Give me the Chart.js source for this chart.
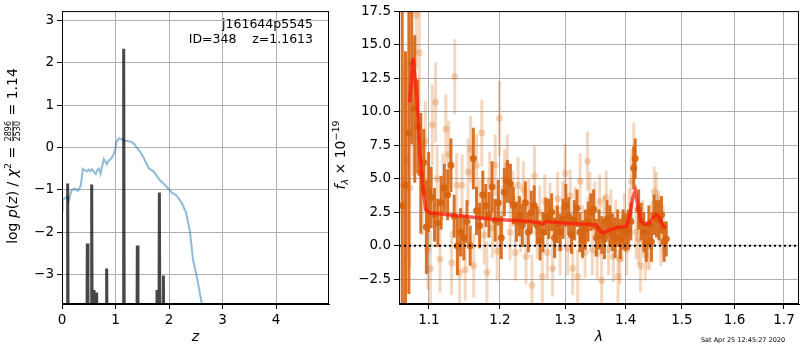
<!DOCTYPE html>
<html>
<head>
<meta charset="utf-8">
<script src="https://cdn.jsdelivr.net/npm/chart.js@4"></script>
<style>
  html, body { margin:0; padding:0; background:#fff; }
  #wrap { position:relative; width:800px; height:350px; overflow:hidden; }
  #pz-box { position:absolute; left:0; top:0; width:335px; height:350px; }
  #sp-box { position:absolute; left:330px; top:0; width:470px; height:350px; }
</style>
</head>
<body>
<div id="wrap">
  <div id="pz-box"><canvas id="chart-pz"></canvas></div>
  <div id="sp-box"><canvas id="chart-spec"></canvas></div>
</div>
<script>
// --- left panel: log p(z) ---
const pzZ   = [0, 0.01, 0.05, 0.09, 0.12, 0.18, 0.24, 0.30, 0.35, 0.39, 0.43, 0.46, 0.50, 0.53, 0.56, 0.60, 0.63, 0.66, 0.69, 0.72, 0.75, 0.78, 0.81, 0.84, 0.87, 0.90, 0.94, 0.97, 1.00, 1.02, 1.07, 1.11, 1.15, 1.20, 1.24, 1.30, 1.35, 1.40, 1.46, 1.52, 1.58, 1.63, 1.71, 1.77, 1.83, 1.90, 1.96, 2.05, 2.14, 2.24, 2.32, 2.39, 2.45, 2.52, 2.61, 2.70];
const pzLog = [-1.5, -1.23, -1.2, -1.16, -1.27, -1.0, -0.97, -1.02, -0.9, -0.5, -0.54, -0.56, -0.52, -0.56, -0.51, -0.58, -0.62, -0.53, -0.5, -0.62, -0.45, -0.27, -0.33, -0.39, -0.3, -0.29, -0.22, -0.15, -0.02, 0.15, 0.22, 0.2, 0.17, 0.16, 0.15, 0.14, 0.08, 0.0, -0.1, -0.23, -0.38, -0.5, -0.56, -0.66, -0.77, -0.85, -0.93, -1.06, -1.13, -1.31, -1.54, -1.97, -2.66, -3.05, -3.66, -4.5];
const spikeZ    = [0.106, 0.473, 0.555, 0.598, 0.648, 0.835, 1.153, 1.408, 1.776, 1.820, 1.895];
const spikePeak = [-0.85, -2.26, -0.87, -3.36, -3.42, -2.85, 2.33, -2.31, -3.36, -1.06, -3.02];
const pzTicksX = [0, 1, 2, 3, 4];
const pzTicksY = [-3, -2, -1, 0, 1, 2, 3];

// --- right panel: spectrum ---
const darkWave = [1.0645, 1.0688, 1.0732, 1.0770, 1.0810, 1.0850, 1.0890, 1.0930, 1.0965, 1.0995, 1.1030, 1.1075, 1.1120, 1.1165, 1.1210, 1.1255, 1.1300, 1.1345, 1.1390, 1.1435, 1.1480, 1.1525, 1.1570, 1.1615, 1.1660, 1.1705, 1.1750, 1.1795, 1.1840, 1.1885, 1.1930, 1.1975, 1.2020, 1.2065, 1.2110, 1.2155, 1.2200, 1.2245, 1.2290, 1.2335, 1.2380, 1.2425, 1.2470, 1.2515, 1.2560, 1.2605, 1.2650, 1.2695, 1.2740, 1.2785, 1.2830, 1.2875, 1.2920, 1.2965, 1.3010, 1.3055, 1.3100, 1.3145, 1.3190, 1.3235, 1.3280, 1.3325, 1.3370, 1.3415, 1.3460, 1.3505, 1.3550, 1.3595, 1.3640, 1.3685, 1.3730, 1.3775, 1.3820, 1.3865, 1.3910, 1.3955, 1.4000, 1.4045, 1.4090, 1.4140, 1.4165, 1.4225, 1.4270, 1.4315, 1.4360, 1.4405, 1.4450, 1.4495, 1.4540, 1.4585, 1.4630, 1.4675, 1.4715];
const darkFlux = [3.0, 4.5, 8.4, 13.6, 10.2, 8.9, 5.4, 6.2, 1.4, 4.0, 3.6, 2.3, 1.7, 3.2, 4.3, 3.8, 6.0, 2.2, 0.0, 1.0, 0.6, 1.8, 0.0, 6.5, 2.6, 1.5, 3.8, 3.0, 2.3, 4.4, 1.9, 3.2, 0.6, 4.0, 4.8, 4.6, 3.0, 1.8, 2.2, 1.5, 3.2, 1.0, 2.5, 3.0, 1.5, 0.4, 1.0, 2.2, 2.0, 2.5, 0.6, 1.6, 1.0, 2.0, 3.0, 2.2, 0.8, 1.9, 2.8, 1.0, 0.5, 1.2, 1.8, 2.5, 2.7, 0.6, 1.2, 0.8, 0.5, 2.0, 1.5, 1.0, 0.6, 1.3, 0.5, 1.2, 1.0, 1.2, 1.8, 5.8, 6.5, 2.7, 1.8, 1.0, 0.2, 1.6, 0.3, 2.3, 2.0, 1.9, 2.3, 0.3, 0.5];
const darkErr  = [15, 10, 12, 6, 5.5, 3.5, 4.5, 2.5, 3.5, 3.0, 2.3, 2.0, 1.8, 2.0, 1.8, 1.9, 2.0, 1.6, 2.2, 1.8, 1.7, 1.6, 1.5, 2.3, 1.8, 1.7, 1.8, 1.6, 1.7, 1.9, 1.6, 1.7, 1.6, 1.8, 1.6, 1.5, 1.4, 1.5, 1.5, 1.6, 1.6, 1.5, 1.6, 1.5, 1.4, 1.5, 1.5, 1.4, 1.5, 1.4, 1.5, 1.4, 1.4, 1.5, 1.6, 1.4, 1.4, 1.5, 1.4, 1.5, 1.4, 1.5, 1.5, 1.4, 1.5, 1.4, 1.5, 1.4, 1.5, 1.4, 1.5, 1.4, 1.5, 1.4, 1.5, 1.5, 1.4, 1.5, 1.4, 1.6, 1.5, 1.5, 1.4, 1.5, 1.4, 1.4, 1.5, 1.5, 1.4, 1.5, 1.4, 1.5, 1.3];

const lightWave = [1.0660, 1.0700, 1.0745, 1.0790, 1.0830, 1.0870, 1.0910, 1.0950, 1.0985, 1.1019, 1.1045, 1.1090, 1.1110, 1.1150, 1.1190, 1.1230, 1.1270, 1.1310, 1.1353, 1.1380, 1.1420, 1.1455, 1.1500, 1.1540, 1.1575, 1.1620, 1.1660, 1.1700, 1.1736, 1.1770, 1.1810, 1.1850, 1.1890, 1.1930, 1.1960, 1.1992, 1.2030, 1.2070, 1.2110, 1.2150, 1.2190, 1.2230, 1.2270, 1.2310, 1.2350, 1.2390, 1.2430, 1.2481, 1.2520, 1.2560, 1.2600, 1.2640, 1.2680, 1.2720, 1.2760, 1.2800, 1.2840, 1.2880, 1.2920, 1.2960, 1.2999, 1.3040, 1.3080, 1.3120, 1.3160, 1.3200, 1.3240, 1.3280, 1.3320, 1.3360, 1.3400, 1.3440, 1.3480, 1.3520, 1.3560, 1.3594, 1.3630, 1.3670, 1.3710, 1.3750, 1.3790, 1.3830, 1.3870, 1.3900, 1.3940, 1.3980, 1.4020, 1.4060, 1.4100, 1.4140, 1.4180, 1.4220, 1.4260, 1.4300, 1.4340, 1.4380, 1.4420, 1.4460, 1.4500, 1.4540, 1.4580, 1.4620, 1.4660];
const lightFlux = [4.5, 6.4, 4.3, 10.2, 17.2, 14.4, 4.3, 7.8, -0.3, -1.7, 9.0, 10.7, 5.0, -1.0, 4.4, 8.7, 6.8, -1.3, 12.6, 4.5, -2.0, 4.5, -1.8, 5.5, 7.2, -1.5, 6.0, 2.6, 8.4, 0.8, -2.0, 4.8, 1.3, 6.0, -0.4, 9.5, 2.3, 5.0, 6.0, 1.0, 3.5, -0.5, 4.5, 1.5, 4.2, -0.8, 3.0, -2.95, 5.2, 1.0, 2.5, -2.3, 3.3, -0.5, 2.7, -1.7, 1.0, 3.5, -0.2, 2.8, 5.4, -0.2, 3.7, -1.7, 2.4, -2.3, 4.8, 1.0, -0.5, 6.3, 3.5, -0.3, 2.8, -0.6, 3.3, -2.6, 1.8, 3.6, -0.3, 2.3, -0.8, 1.5, -2.3, -1.0, 0.6, 2.0, -0.3, 2.3, 4.8, 7.0, 1.0, 0.5, -1.5, 1.6, -0.7, 0.0, 0.0, 1.5, 4.0, 3.6, 2.3, 0.3, 1.2];
const lightErr  = [9, 7.5, 6, 5, 4, 4, 3.5, 3, 3, 2.8, 3, 3, 2.5, 2.5, 2.5, 2.6, 2.5, 2.4, 2.8, 2.4, 2.4, 2.3, 2.3, 2.5, 2.5, 2.4, 2.3, 2.3, 2.5, 2.2, 2.3, 2.2, 2.2, 2.3, 2.2, 2.8, 2.2, 2.2, 2.3, 2.1, 2.1, 2.1, 2.1, 2.0, 2.1, 2.1, 2.0, 2.3, 2.2, 2.0, 2.0, 2.2, 2.0, 2.0, 2.0, 2.1, 2.0, 2.0, 2.0, 2.0, 2.2, 2.0, 2.0, 2.0, 2.0, 2.0, 2.1, 2.0, 1.9, 2.2, 2.0, 1.9, 2.0, 1.9, 2.0, 2.1, 1.9, 2.0, 1.9, 1.9, 1.9, 1.9, 2.0, 1.9, 1.8, 1.9, 1.9, 2.0, 2.0, 2.2, 2.0, 1.9, 2.0, 1.8, 1.9, 1.8, 1.8, 1.8, 1.9, 1.9, 1.8, 1.8, 1.8];

const modelWave = [1.0743, 1.0787, 1.0840, 1.0876, 1.0920, 1.0956, 1.1009, 1.1100, 1.1468, 1.1943, 1.2440, 1.2594, 1.2645, 1.2697, 1.2960, 1.3501, 1.3568, 1.3613, 1.3697, 1.3839, 1.4007, 1.4064, 1.4122, 1.4168, 1.4208, 1.4266, 1.4324, 1.4400, 1.4473, 1.4532, 1.4592, 1.4652, 1.4712];
const modelFlux = [10.7, 14.0, 11.1, 7.0, 4.3, 2.7, 2.45, 2.4, 2.2, 1.95, 1.83, 1.7, 1.6, 1.8, 1.7, 1.54, 1.1, 0.93, 1.1, 1.35, 1.44, 2.08, 3.55, 4.1, 3.06, 1.83, 1.59, 1.64, 2.08, 2.3, 2.08, 1.47, 1.35];

const specTicksX = [1.1, 1.2, 1.3, 1.4, 1.5, 1.6, 1.7];
const specTicksY = [-2.5, 0, 2.5, 5, 7.5, 10, 12.5, 15, 17.5];
const waveRange = [1.0603, 1.7316];

const FONT = '"DejaVu Sans", sans-serif';
const minus = s => String(s).replace('-', '\u2212');

// top/right spines
const frame = {
  id: 'frame',
  afterDraw(chart) {
    const { ctx, chartArea: a } = chart;
    ctx.save();
    ctx.strokeStyle = '#000'; ctx.lineWidth = 1;
    ctx.strokeRect(a.left + 0.5, a.top + 0.5, a.width - 1, a.height - 1);
    ctx.restore();
  }
};

// vertical error bars drawn just under each dataset's markers
const errorBars = {
  id: 'errorBars',
  beforeDatasetDraw(chart, args) {
    const ds = chart.data.datasets[args.index];
    if (!ds.errors) return;
    const { ctx, scales: { x, y }, chartArea: a } = chart;
    ctx.save();
    ctx.beginPath(); ctx.rect(a.left, a.top, a.width, a.height); ctx.clip();
    ctx.strokeStyle = ds.errColor; ctx.lineWidth = 3;
    ds.data.forEach((p, i) => {
      const px = x.getPixelForValue(p.x);
      ctx.beginPath();
      ctx.moveTo(px, y.getPixelForValue(p.y - ds.errors[i]));
      ctx.lineTo(px, y.getPixelForValue(p.y + ds.errors[i]));
      ctx.stroke();
    });
    ctx.restore();
  }
};

// draw a run of text pieces with mixed styles, centred on (cx, cy), optionally rotated
function drawRich(ctx, pieces, cx, cy, rot) {
  ctx.save();
  ctx.translate(cx, cy);
  if (rot) ctx.rotate(rot);
  ctx.fillStyle = '#000';
  ctx.textBaseline = 'alphabetic';
  let total = 0;
  pieces.forEach(p => {
    ctx.font = p.font;
    p.w = p.frac ? Math.max(ctx.measureText(p.frac[0]).width, ctx.measureText(p.frac[1]).width) + 2 : ctx.measureText(p.t).width;
    total += p.w;
  });
  let x = -total / 2;
  pieces.forEach(p => {
    ctx.font = p.font;
    if (p.frac) {
      ctx.textAlign = 'center';
      ctx.fillText(p.frac[0], x + p.w / 2, -1);
      ctx.fillText(p.frac[1], x + p.w / 2, 8);
      ctx.fillRect(x + 1, 0.5, p.w - 2, 0.8);
      ctx.textAlign = 'left';
    } else {
      ctx.textAlign = 'left';
      ctx.fillText(p.t, x, 5 + (p.dy || 0));
    }
    x += p.w;
  });
  ctx.restore();
}

const pzLabels = {
  id: 'pzLabels',
  afterDraw(chart) {
    const { ctx, chartArea: a } = chart;
    const n = '14px ' + FONT, it = 'italic 14px ' + FONT, sm = '9.5px ' + FONT, fr = '8px ' + FONT;
    drawRich(ctx, [
      { t: 'log ', font: n }, { t: 'p', font: it }, { t: '(', font: n }, { t: 'z', font: it },
      { t: ') / ', font: n }, { t: '\u03c7', font: it }, { t: '2', font: sm, dy: -6 }, { t: ' = ', font: n },
      { frac: ['2896', '2530'], font: fr }, { t: ' = 1.14', font: n }
    ], 12, 156, -Math.PI / 2);
    drawRich(ctx, [{ t: 'z', font: it }], (a.left + a.right) / 2, 336, 0);
    ctx.save();
    ctx.font = '12.5px ' + FONT; ctx.fillStyle = '#000'; ctx.textAlign = 'right'; ctx.textBaseline = 'alphabetic';
    ctx.fillText('j161644p5545', 313, 28);
    ctx.fillText('ID=348    z=1.1613', 313, 43);
    ctx.restore();
  }
};

const specLabels = {
  id: 'specLabels',
  afterDraw(chart) {
    const { ctx, chartArea: a } = chart;
    const it = 'italic 14px ' + FONT, n = '14px ' + FONT, sm = 'italic 9.5px ' + FONT, smn = '9.5px ' + FONT;
    drawRich(ctx, [
      { t: 'f', font: it }, { t: '\u03bb', font: sm, dy: 3 }, { t: ' \u00d7 10', font: n }, { t: '\u221219', font: smn, dy: -6 }
    ], 10, 155, -Math.PI / 2);
    drawRich(ctx, [{ t: '\u03bb', font: it }], (a.left + a.right) / 2, 336, 0);
    ctx.save();
    ctx.font = '6.5px ' + FONT; ctx.fillStyle = '#000'; ctx.textAlign = 'center'; ctx.textBaseline = 'alphabetic';
    ctx.fillText('Sat Apr 25 12:45:27 2020', 413, 342);
    ctx.restore();
  }
};

function axisStyle(extra) {
  return Object.assign({
    grid: { color: '#b0b0b0', lineWidth: 1, tickColor: '#000', tickLength: 5, drawTicks: true },
    border: { color: '#000', width: 1 },
    ticks: { color: '#000', font: { family: FONT, size: 13.5 }, padding: 3, autoSkip: false, maxRotation: 0 }
  }, extra);
}

const blue = pzZ.map((z, i) => ({ x: z, y: pzLog[i] }));
const spikes = [];
spikeZ.forEach((z, i) => {
  spikes.push({ x: z - 0.012, y: -6 }, { x: z, y: spikePeak[i] }, { x: z + 0.012, y: -6 });
});

new Chart(document.getElementById('chart-pz'), {
  type: 'scatter',
  data: {
    datasets: [
      { data: spikes, showLine: true, borderColor: 'rgba(0,0,0,0.72)', borderWidth: 3, pointRadius: 0, order: 1 },
      { data: blue, showLine: true, borderColor: 'rgba(31,119,180,0.5)', borderWidth: 2, pointRadius: 0, order: 2 }
    ]
  },
  options: {
    responsive: true, maintainAspectRatio: false, animation: false, events: [],
    layout: { padding: { top: 6, right: 6, left: 0, bottom: 0 }, autoPadding: false },
    plugins: { legend: { display: false }, tooltip: { enabled: false } },
    scales: {
      x: axisStyle({ type: 'linear', min: 0, max: 4.99,
        afterBuildTicks: s => { s.ticks = pzTicksX.map(v => ({ value: v })); },
        afterFit: s => { s.height = 46; } }),
      y: axisStyle({ type: 'linear', min: -3.69, max: 3.22,
        afterBuildTicks: s => { s.ticks = pzTicksY.map(v => ({ value: v })); },
        ticks: { color: '#000', font: { family: FONT, size: 13.5 }, padding: 3, autoSkip: false, callback: v => minus(v) },
        afterFit: s => { s.width = 62; } })
    }
  },
  plugins: [frame, pzLabels]
});

new Chart(document.getElementById('chart-spec'), {
  type: 'scatter',
  data: {
    datasets: [
      { data: [{ x: waveRange[0], y: 0 }, { x: waveRange[1], y: 0 }], showLine: true, borderColor: '#000', borderWidth: 2, borderDash: [2, 3], pointRadius: 0, order: 0 },
      { data: modelWave.map((w, i) => ({ x: w, y: modelFlux[i] })), showLine: true, borderColor: 'rgba(255,20,10,0.7)', borderWidth: 3.5, pointRadius: 0, order: 1 },
      { data: darkWave.map((w, i) => ({ x: w, y: darkFlux[i] })), errors: darkErr, errColor: 'rgba(214,100,16,0.9)',
        backgroundColor: 'rgba(214,100,16,0.9)', borderWidth: 0, pointRadius: 3.5, order: 2 },
      { data: lightWave.map((w, i) => ({ x: w, y: lightFlux[i] })), errors: lightErr, errColor: 'rgba(217,95,2,0.25)',
        backgroundColor: 'rgba(217,95,2,0.25)', borderWidth: 0, pointRadius: 3.5, order: 3 }
    ]
  },
  options: {
    responsive: true, maintainAspectRatio: false, animation: false, events: [],
    layout: { padding: { top: 6, right: 1, left: 0, bottom: 0 }, autoPadding: false },
    plugins: { legend: { display: false }, tooltip: { enabled: false } },
    scales: {
      x: axisStyle({ type: 'logarithmic', min: waveRange[0], max: waveRange[1],
        afterBuildTicks: s => { s.ticks = specTicksX.map(v => ({ value: v })); },
        ticks: { color: '#000', font: { family: FONT, size: 13.5 }, padding: 3, autoSkip: false, maxRotation: 0, callback: v => v.toFixed(1) },
        afterFit: s => { s.height = 46; } }),
      y: axisStyle({ type: 'linear', min: -4.35, max: 17.5,
        afterBuildTicks: s => { s.ticks = specTicksY.map(v => ({ value: v })); },
        ticks: { color: '#000', font: { family: FONT, size: 13.5 }, padding: 3, autoSkip: false, callback: v => minus(v.toFixed(1)) },
        afterFit: s => { s.width = 69; } })
    }
  },
  plugins: [frame, errorBars, specLabels]
});
</script>
</body>
</html>
